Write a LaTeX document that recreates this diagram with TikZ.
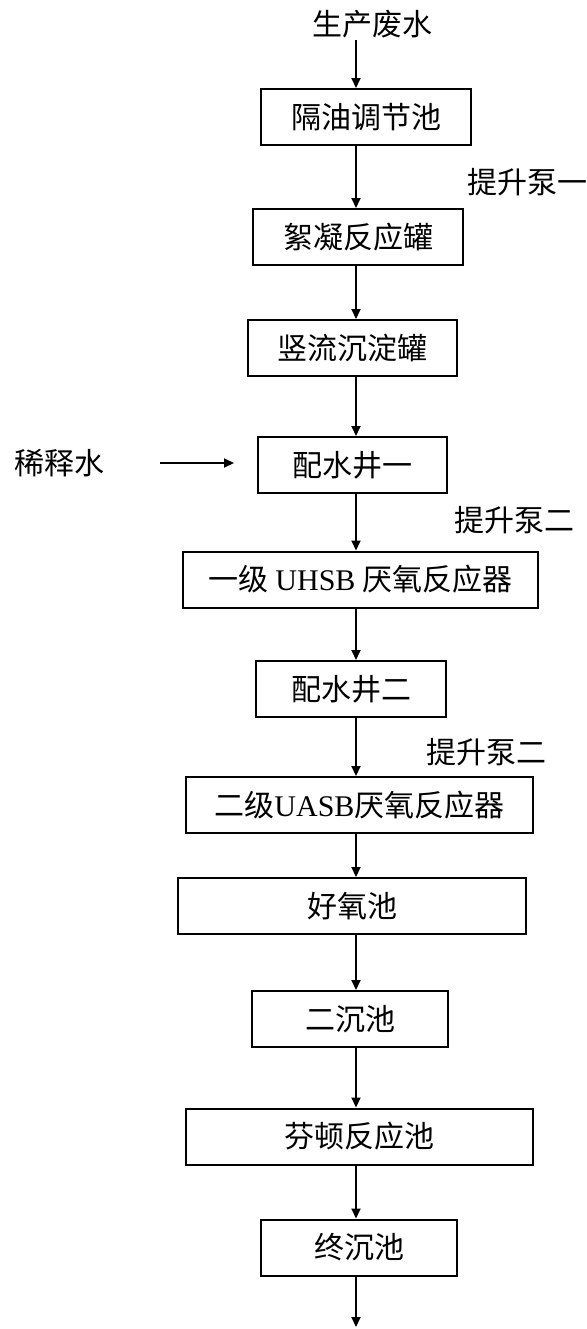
\documentclass[tikz,border=0pt]{standalone}
\usepackage{fontspec}
\setmainfont{Liberation Serif}
\newfontfamily\cjk{Noto Sans CJK SC}
\usetikzlibrary{arrows.meta}

\begin{document}
\begin{tikzpicture}[x=0.5pt, y=-0.5pt,
        stage/.style={draw, line width=1pt, inner sep=0pt, minimum height=28pt,
            font=\cjk\fontsize{15}{17}\selectfont},
        note/.style={inner sep=1pt, font=\cjk\fontsize{15}{17}\selectfont},
        flow/.style={-{Triangle[length=5pt,width=4.5pt]}, line width=1pt}]
        \useasboundingbox (0,0) rectangle (587,1329);
        \coordinate (spine) at (356,0);

        % inflow and pretreatment
        \node[note] (src) at (372,24) {生产废水};
        \node[stage, minimum width=105pt] (b1) at (366,117) {隔油调节池};
        \node[note] (pump1) at (527,182) {提升泵一};
        \node[stage, minimum width=105pt] (b2) at (358,237) {絮凝反应罐};
        \node[stage, minimum width=104.5pt] (b3) at (352.5,348) {竖流沉淀罐};

        % dilution
        \node[note] (dilute) at (59,463) {稀释水};
        \node[stage, minimum width=94.5pt] (b4) at (352.5,465) {配水井一};
        \node[note] (pump2) at (514,520) {提升泵二};

        % anaerobic stages
        \node[stage, minimum width=177.5pt] (b5) at (360.5,579.5) {一级 \textrm{UHSB} 厌氧反应器};
        \node[stage, minimum width=95pt] (b6) at (351,689) {配水井二};
        \node[note] (pump3) at (486,752) {提升泵二};
        \node[stage, minimum width=173.5pt] (b7) at (359.5,805) {二级\textrm{UASB}厌氧反应器};

        % aerobic and advanced treatment
        \node[stage, minimum width=174pt] (b8) at (352,906) {好氧池};
        \node[stage, minimum width=98pt] (b9) at (350,1019) {二沉池};
        \node[stage, minimum width=173.5pt] (b10) at (359.5,1136.5) {芬顿反应池};
        \node[stage, minimum width=98pt] (b11) at (359,1247.5) {终沉池};
        \coordinate (out) at (356,1327);

        % arrows
        \draw[flow] (src.south -| spine) -- (b1.north -| spine);
        \foreach \a/\b in {b1/b2, b2/b3, b3/b4, b4/b5, b5/b6, b6/b7, b7/b8, b8/b9, b9/b10, b10/b11}
            \draw[flow] (\a.south -| spine) -- (\b.north -| spine);
        \draw[flow] (b11.south -| spine) -- (out);
        \draw[flow, shorten <=27pt, shorten >=11.5pt] (dilute.east) -- (dilute.east -| b4.west);

    \end{tikzpicture}
\end{document}
